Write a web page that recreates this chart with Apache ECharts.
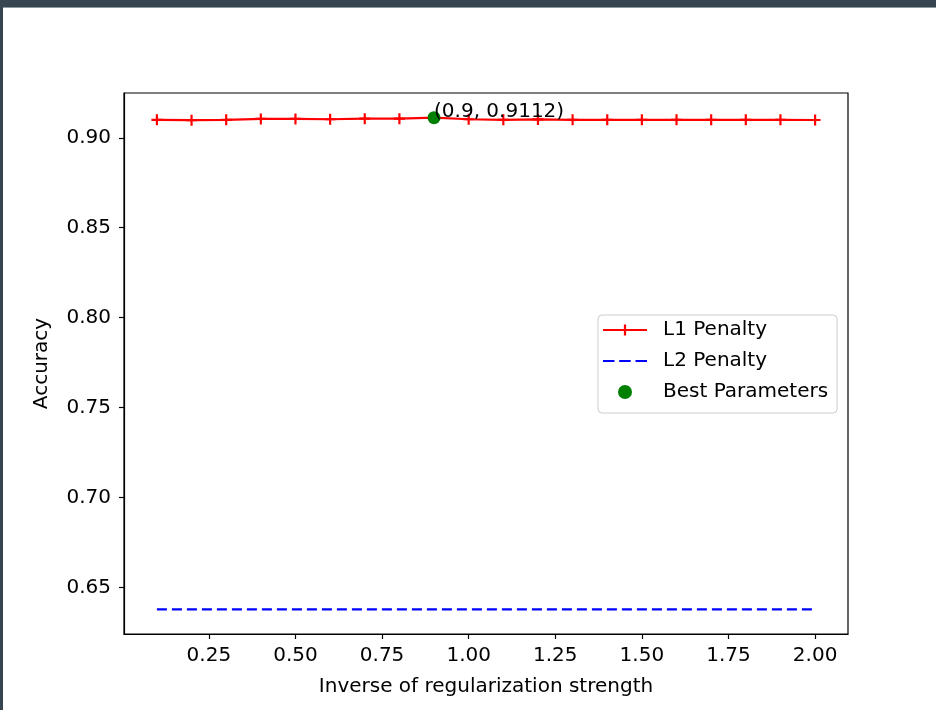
<!DOCTYPE html>
<html>
<head>
<meta charset="utf-8">
<script src="https://cdn.jsdelivr.net/npm/echarts@6/dist/echarts.min.js"></script>
<style>
html,body{margin:0;padding:0;background:#fff;}
#chart{width:936px;height:710px;}
</style>
</head>
<body>
<div id="chart"></div>
<script>
// ---- data ----
const cValues = [0.1,0.2,0.3,0.4,0.5,0.6,0.7,0.8,0.9,1.0,1.1,1.2,1.3,1.4,1.5,1.6,1.7,1.8,1.9,2.0];
const l1Accuracy = [0.9100,0.9098,0.9100,0.9105,0.9105,0.9103,0.9106,0.9106,0.9112,0.9103,0.9100,0.9102,0.9100,0.9100,0.9100,0.9100,0.9100,0.9100,0.9100,0.9099];
const l2Accuracy = [0.6378,0.6378,0.6378,0.6378,0.6378,0.6378,0.6378,0.6378,0.6378,0.6378,0.6378,0.6378,0.6378,0.6378,0.6378,0.6378,0.6378,0.6378,0.6378,0.6378];
const bestPoint = [0.9, 0.9112];
const xTicks = [0.25,0.50,0.75,1.00,1.25,1.50,1.75,2.00];
const yTicks = [0.65,0.70,0.75,0.80,0.85,0.90];
const seriesNames = ['L1 Penalty','L2 Penalty','Best Parameters'];
const xAxisTitle = 'Inverse of regularization strength';
const yAxisTitle = 'Accuracy';

const FONT = 'DejaVu Sans';
const FS = 20;
const plusPath = 'path://M4,0H6V4H10V6H6V10H4V6H0V4H4Z';
const dashIcon = 'path://M0,6H11.5V8H0Z M16.2,6H27.7V8H16.2Z M32.5,6H44V8H32.5Z';

const chart = echarts.init(document.getElementById('chart'), null, {renderer:'canvas'});
chart.setOption({
  backgroundColor:'#ffffff',
  animation:false,
  textStyle:{fontFamily:FONT},
  grid:{left:124, top:93, width:724, height:541, show:true, borderColor:'#000', borderWidth:1.2, backgroundColor:'transparent'},
  graphic:[
    {type:'rect', left:0, top:0, shape:{width:936, height:7}, style:{fill:'#36454f'}, z:100},
    {type:'rect', left:0, top:7, shape:{width:936, height:1}, style:{fill:'#8e989d'}, z:100},
    {type:'rect', left:0, top:0, shape:{width:3, height:710}, style:{fill:'#36454f'}, z:100}
  ],
  legend:{
    orient:'vertical', left:598, top:315,
    data:[
      {name:seriesNames[0]},
      {name:seriesNames[1], icon:dashIcon},
      {name:seriesNames[2]}
    ],
    backgroundColor:'rgba(255,255,255,0.8)',
    borderColor:'#cccccc', borderWidth:1, borderRadius:4,
    padding:[4,9,10,4],
    itemWidth:44, itemHeight:14, itemGap:9,
    textStyle:{fontFamily:FONT, fontSize:FS, color:'#000', lineHeight:22, padding:[0,0,0,11]}
  },
  xAxis:{
    type:'value', min:0.005, max:2.095,
    name:xAxisTitle, nameLocation:'middle', nameGap:43,
    nameTextStyle:{fontFamily:FONT, fontSize:FS, color:'#000'},
    axisLine:{show:true, onZero:false, lineStyle:{color:'#000', width:1.2}},
    axisTick:{show:true, length:5, customValues:xTicks, lineStyle:{color:'#000', width:1.2}},
    axisLabel:{customValues:xTicks, margin:12, fontFamily:FONT, fontSize:FS, color:'#000', formatter:v=>v.toFixed(2)},
    splitLine:{show:false}
  },
  yAxis:{
    type:'value', min:0.6241, max:0.9249,
    name:yAxisTitle, nameLocation:'middle', nameGap:72,
    nameTextStyle:{fontFamily:FONT, fontSize:FS, color:'#000'},
    axisLine:{show:true, onZero:false, lineStyle:{color:'#000', width:1.2}},
    axisTick:{show:true, length:5, customValues:yTicks, lineStyle:{color:'#000', width:1.2}},
    axisLabel:{customValues:yTicks, margin:13, fontFamily:FONT, fontSize:FS, color:'#000', formatter:v=>v.toFixed(2)},
    splitLine:{show:false}
  },
  series:[
    {
      name:seriesNames[0], type:'line',
      data:cValues.map((c,i)=>[c,l1Accuracy[i]]),
      symbol:plusPath, symbolSize:11, showSymbol:true,
      lineStyle:{color:'#ff0000', width:2.2},
      itemStyle:{color:'#ff0000'},
      z:2
    },
    {
      name:seriesNames[1], type:'line',
      data:cValues.map((c,i)=>[c,l2Accuracy[i]]),
      symbol:'none', showSymbol:false,
      lineStyle:{color:'#0000ff', width:2.2, type:[10,5]},
      itemStyle:{color:'#0000ff'},
      z:2
    },
    {
      name:seriesNames[2], type:'scatter',
      data:[bestPoint],
      symbol:'circle', symbolSize:13,
      itemStyle:{color:'#008000', opacity:1},
      label:{show:true, position:[6.5,6.5], align:'left', verticalAlign:'bottom', offset:[0,4],
        fontFamily:FONT, fontSize:FS, color:'#000', opacity:1,
        formatter:()=>'(' + bestPoint[0] + ', ' + bestPoint[1] + ')'},
      z:5
    }
  ]
});
</script>
</body>
</html>
